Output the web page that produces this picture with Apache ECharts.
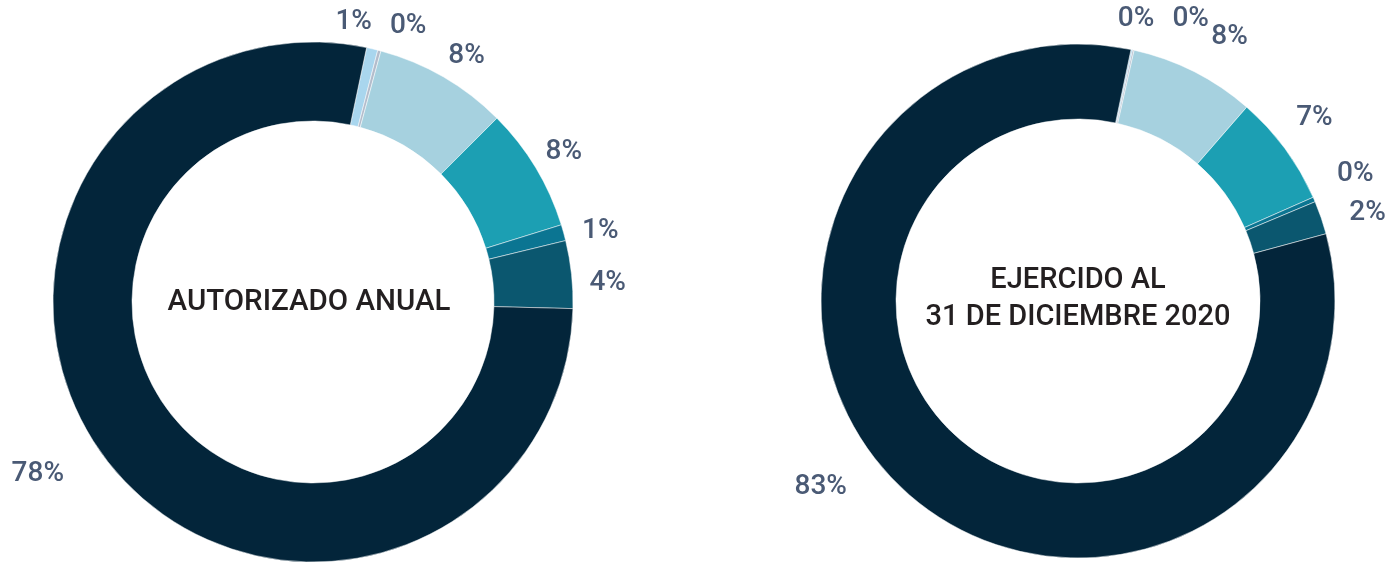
<!DOCTYPE html>
<html>
<head>
<meta charset="utf-8">
<script src="https://cdn.jsdelivr.net/npm/echarts@6/dist/echarts.min.js"></script>
<style>
  html, body { margin: 0; padding: 0; background: #fff; }
  #chart { width: 1390px; height: 563px; }
</style>
</head>
<body>
<div id="chart"></div>
<script>
// categorias (sin nombre visible en la imagen)
const categories = ['c1', 'c2', 'c3', 'c4', 'c5', 'c6', 'c7'];
// porcentajes
const autorizado = [0.7, 0.2, 8.3, 7.7, 1.0, 4.2, 77.9];
const ejercido = [0.1, 0.1, 7.9, 7.0, 0.3, 2.1, 82.6];
const colors = ['#a9d6ee', '#b3bccb', '#a6d1df', '#1c9fb3', '#0b7592', '#0b576f', '#03253a'];

// ajustes finos de etiquetas [dx, dy] por serie (como en el original)
const labelNudge = [
    [[-45, -13], [2, -11], [-7, -9], [-7, -8], [0, 2], [-1, 10], [-29, 2]],
    [[-22, -17], [31, -17], [6, -22], [-5, -22], [5, -20], [10, 0], [-40, -11]]
];

const chart = echarts.init(document.getElementById('chart'));

function toData(values) {
    return values.map((v, i) => ({ name: categories[i], value: v }));
}

const labelStyle = {
    show: true,
    position: 'outside',
    formatter: p => Math.round(p.value) + '%',
    color: '#4a5a75',
    fontFamily: 'Roboto',
    fontWeight: 500,
    fontSize: 28
};

function nudge(params) {
    const d = labelNudge[params.seriesIndex][params.dataIndex];
    return { dx: d[0], dy: d[1] };
}

chart.setOption({
    color: colors,
    animation: false,
    graphic: [
        {
            type: 'text',
            x: 309,
            y: 303,
            style: {
                text: 'AUTORIZADO ANUAL',
                align: 'center',
                verticalAlign: 'middle',
                fill: '#231f20',
                font: '500 29.5px Roboto'
            }
        },
        {
            type: 'text',
            x: 1078,
            y: 299,
            style: {
                text: 'EJERCIDO AL\n31 DE DICIEMBRE 2020',
                align: 'center',
                verticalAlign: 'middle',
                lineHeight: 37,
                fill: '#231f20',
                font: '500 29px Roboto'
            }
        }
    ],
    series: [
        {
            type: 'pie',
            center: [313, 302],
            radius: [181, 260],
            startAngle: 78.1,
            clockwise: true,
            avoidLabelOverlap: false,
            label: labelStyle,
            labelLine: { show: false, length: 14, length2: 0 },
            labelLayout: nudge,
            itemStyle: { borderColor: '#ffffff', borderWidth: 0.5 },
            data: toData(autorizado)
        },
        {
            type: 'pie',
            center: [1078, 301],
            radius: [182, 257],
            startAngle: 78.1,
            clockwise: true,
            avoidLabelOverlap: false,
            label: labelStyle,
            labelLine: { show: false, length: 14, length2: 0 },
            labelLayout: nudge,
            itemStyle: { borderColor: '#ffffff', borderWidth: 0.5 },
            data: toData(ejercido)
        }
    ]
});
</script>
</body>
</html>
